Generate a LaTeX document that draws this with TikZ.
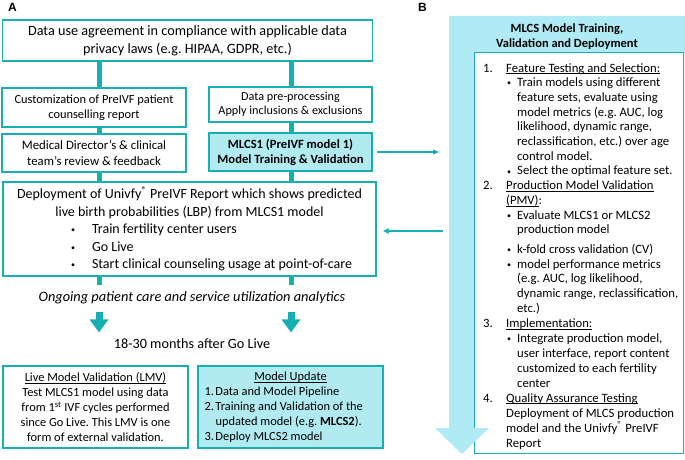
\documentclass[tikz,border=0pt]{standalone}
\usepackage{fontspec}
\setmainfont{Carlito}
\newfontfamily\panelfont{Liberation Sans}
\usepackage{tikz}
\usetikzlibrary{arrows.meta,positioning,calc}
\usepackage{xcolor}
\definecolor{flowteal}{RGB}{22,176,178}
\definecolor{flowblue}{RGB}{178,234,242}
\definecolor{flowsky}{RGB}{176,234,244}
\frenchspacing

\newcommand{\fsz}[2]{\fontsize{#1}{#2}\selectfont}
\newcommand{\smallbul}{\raisebox{0.8pt}{\fontsize{8}{8}\selectfont\textbullet}}
\newcommand{\uline}[1]{\underline{\raisebox{0pt}[\height][0pt]{#1}}}
% lines of the step list in panel B
\newcommand{\numln}[2]{\makebox[23pt][l]{#1}#2\\}
\newcommand{\subln}[1]{\hspace*{23pt}#1\\}
\newcommand{\bulln}[1]{\hspace*{24pt}\makebox[10pt][l]{\smallbul}#1\\}
\newcommand{\contln}[1]{\hspace*{34pt}#1\\}

\begin{document}
\begin{tikzpicture}[x=1pt, y=-1pt,
    box/.style={draw=flowteal, line width=1.6pt, fill=white, inner sep=0pt, align=center},
    bluebox/.style={box, fill=flowblue},
    link/.style={draw=flowteal, line width=5pt},
    blockarrow/.style={draw=flowteal, line width=7pt, -{Triangle[length=13pt,width=18pt]}},
    sidearrow/.style={draw=flowteal, line width=1.3pt, -{Triangle[length=6pt,width=5pt]}}
]
\useasboundingbox (0,0) rectangle (685,460);

% panel labels
\node[font=\panelfont\bfseries\fsz{12}{14}] (labA) at (12.5,7) {A};
\node[font=\panelfont\bfseries\fsz{12}{14}] (labB) at (422.5,7) {B};

% columns of the connectors
\coordinate (lcol) at (99,0);
\coordinate (rcol) at (291,0);

% panel A
\node[box, minimum width=370pt, minimum height=41pt, font=\fsz{14.2}{18.3}] (dua) at (187.5,40.5)
    {Data use agreement in compliance with applicable data\\privacy laws (e.g. HIPAA, GDPR, etc.)};
\node[box, minimum width=184pt, minimum height=39pt, font=\fsz{12.4}{15}] (custom) at (94,107.5)
    {Customization of PreIVF patient\\counselling report};
\node[box, minimum width=163pt, minimum height=35pt, font=\fsz{12.2}{14.5}] (prep) at (290.5,104.5)
    {Data pre-processing\\Apply inclusions \& exclusions};
\node[box, minimum width=184pt, minimum height=38pt, font=\fsz{12.8}{15.3}] (review) at (94,153)
    {Medical Director's \& clinical\\team's review \& feedback};
\node[bluebox, minimum width=163pt, minimum height=38pt, font=\bfseries\fsz{12.6}{15}] (mlcs1) at (290.5,152)
    {MLCS1 (PreIVF model 1)\\Model Training \& Validation};
\node[box, minimum width=373pt, minimum height=94pt] (deploy) at (189.5,229)
    {\begin{minipage}{367pt}\fsz{14}{17.5}\centering
     Deployment of Univfy\textsuperscript{\textregistered} PreIVF Report which shows predicted\\
     live birth probabilities (LBP) from MLCS1 model\par\raggedright
     \hspace*{65pt}\makebox[21pt][l]{\smallbul}Train fertility center users\\
     \hspace*{65pt}\makebox[21pt][l]{\smallbul}Go Live\\
     \hspace*{65pt}\makebox[21pt][l]{\smallbul}Start clinical counseling usage at point-of-care
     \end{minipage}};
\coordinate (lstub) at (99,285);
\coordinate (rstub) at (291,285);
\node[font=\itshape\fsz{14.35}{16}] (ongoing) at (192,298)
    {Ongoing patient care and service utilization analytics};
\node[font=\fsz{14.2}{16}] (months) at (192,344) {18-30 months after Go Live};
\node[box, minimum width=185pt, minimum height=82pt, font=\fsz{12.4}{15}] (lmv) at (95.5,407)
    {\uline{Live Model Validation (LMV)}\\Test MLCS1 model using data\\
     from 1\textsuperscript{st} IVF cycles performed\\since Go Live. This LMV is one\\
     form of external validation.};
\node[bluebox, minimum width=185pt, minimum height=82pt] (update) at (290.5,407)
    {\begin{minipage}{172pt}\fsz{12.4}{15}\centering
     \uline{Model Update}\par\raggedright
     \makebox[11pt][l]{1.}Data and Model Pipeline\\
     \makebox[11pt][l]{2.}Training and Validation of the\\
     \hspace*{11pt}updated model (e.g. \textbf{MLCS2}).\\
     \makebox[11pt][l]{3.}Deploy MLCS2 model
     \end{minipage}};

\draw[link] (lcol |- dua.south) -- (lcol |- custom.north);
\draw[link] (rcol |- dua.south) -- (rcol |- prep.north);
\draw[link] (lcol |- custom.south) -- (lcol |- review.north);
\draw[link] (rcol |- prep.south) -- (rcol |- mlcs1.north);
\draw[link] (lcol |- review.south) -- (lcol |- deploy.north);
\draw[link] (rcol |- mlcs1.south) -- (rcol |- deploy.north);
\draw[link] (lcol |- deploy.south) -- (lstub);
\draw[link] (rcol |- deploy.south) -- (rstub);
\draw[blockarrow] ([yshift=-4pt]lcol |- ongoing.south) -- ([yshift=3pt]lcol |- months.north);
\draw[blockarrow] ([yshift=-4pt]rcol |- ongoing.south) -- ([yshift=3pt]rcol |- months.north);

% panel B
\fill[flowsky] (449,16) -- (685,16) -- (685,53) -- (474,53) -- (474,428) -- (449,428) -- cycle;
\node[draw=flowteal, line width=1pt, fill=white, minimum width=209pt, minimum height=400pt, inner sep=0pt] (steps) at (578.5,253) {};
\fill[flowsky] (435,428) -- (489,428) -- (462,454) -- cycle;
\node[align=center, font=\bfseries\fsz{12.5}{15}] (stepsT) at (567,36.3)
    {MLCS Model Training,\\Validation and Deployment};
\node[anchor=north west, align=left, inner sep=0pt, font=\fsz{12.7}{14.7}] (stepsA) at (483,63)
    {\numln{1.}{\uline{Feature Testing and Selection:}}
     \bulln{Train models using different}
     \contln{feature sets, evaluate using}
     \contln{model metrics (e.g. AUC, log}
     \contln{likelihood, dynamic range,}
     \contln{reclassification, etc.) over age}
     \contln{control model.}
     \bulln{Select the optimal feature set.}
     \numln{2.}{\uline{Production Model Validation}}
     \subln{\uline{(PMV)}:}
     \bulln{Evaluate MLCS1 or MLCS2}
     \hspace*{34pt}production model};
\node[anchor=north west, align=left, inner sep=0pt, font=\fsz{12.7}{14.92}] (stepsB) at (483,243.6)
    {\bulln{k-fold cross validation (CV)}
     \bulln{model performance metrics}
     \contln{(e.g. AUC, log likelihood,}
     \contln{dynamic range, reclassification,}
     \contln{etc.)}
     \numln{3.}{\uline{Implementation:}}
     \bulln{Integrate production model,}
     \contln{user interface, report content}
     \contln{customized to each fertility}
     \contln{center}
     \numln{4.}{\uline{Quality Assurance Testing}}
     \subln{Deployment of MLCS production}
     \subln{model and the Univfy\textsuperscript{\textregistered} PreIVF}
     \hspace*{23pt}Report};

\coordinate (toB) at (439,152);
\coordinate (fromB) at (443,231);
\draw[sidearrow] ([xshift=4pt]mlcs1.east) -- (toB);
\draw[sidearrow] (fromB) -- ([xshift=6pt]deploy.east |- fromB);
\end{tikzpicture}
\end{document}
